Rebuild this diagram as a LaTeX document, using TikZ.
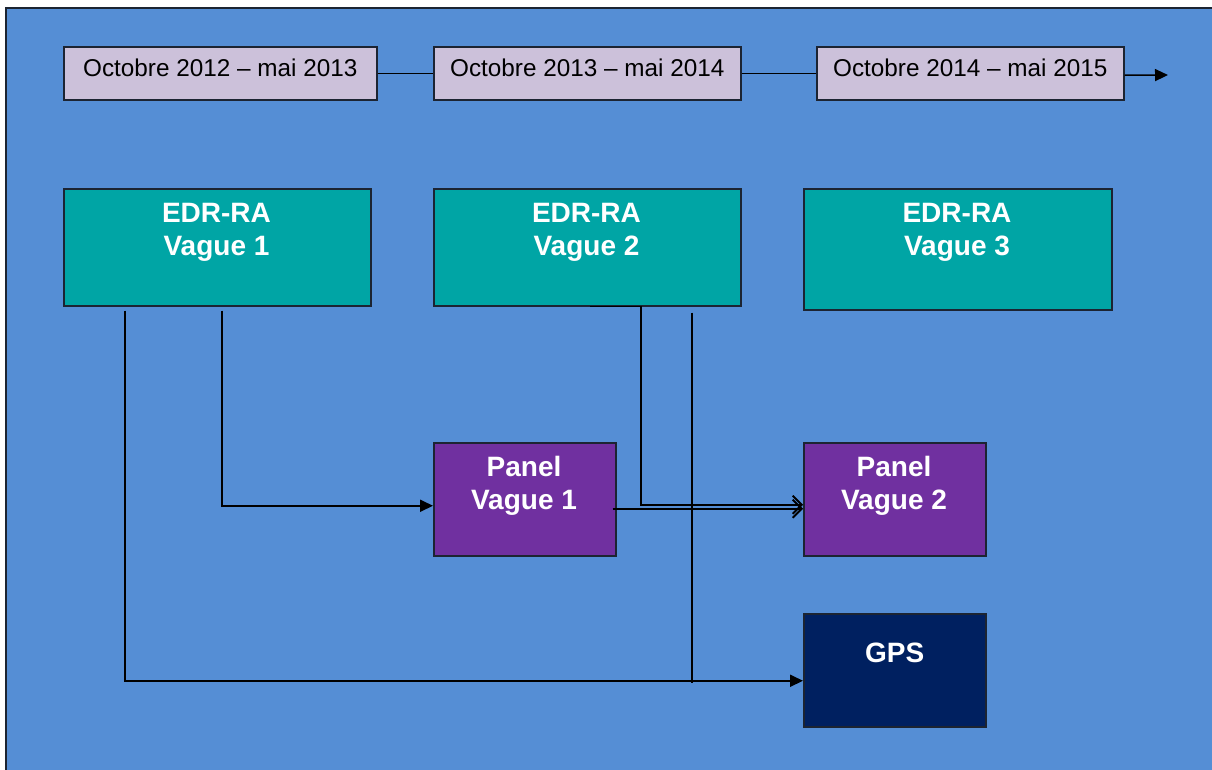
\documentclass[tikz,border=0pt]{standalone}
\usepackage{fontspec}
\setmainfont{Liberation Sans}
\usetikzlibrary{arrows.meta}
\definecolor{bgblue}{RGB}{85,142,213}
\definecolor{datefill}{RGB}{204,193,218}
\definecolor{tealbox}{RGB}{0,165,165}
\definecolor{purplebox}{RGB}{112,48,160}
\definecolor{navybox}{RGB}{0,32,96}
\definecolor{edge}{RGB}{28,36,50}
\tikzset{
  datebox/.style={draw=edge, line width=1.5pt, fill=datefill, inner xsep=0pt, inner ysep=0pt,
    minimum width=313pt, text height=30pt, text depth=23pt, anchor=north west,
    font=\fontsize{24.3}{28}\selectfont, text=black},
  edrbox/.style={draw=edge, line width=1.5pt, fill=tealbox, minimum width=307pt, minimum height=117pt,
    anchor=north west, inner sep=0pt},
  panelbox/.style={draw=edge, line width=1.5pt, fill=purplebox, minimum width=182pt, minimum height=113pt,
    anchor=north west, inner sep=0pt},
  gpsbox/.style={draw=edge, line width=1.5pt, fill=navybox, minimum width=182pt, inner ysep=0pt,
    text height=49pt, text depth=64pt, anchor=north west, text=white,
    font=\fontsize{28}{33}\selectfont\bfseries},
  boxlabel/.style={text=white, align=center, inner sep=0pt, anchor=north,
    font=\fontsize{28}{33}\selectfont\bfseries},
  conn/.style={draw=black, line width=1.8pt},
  filltip/.style={-{Triangle[length=13pt,width=12pt]}},
  barbtip/.style={-{Straight Barb[length=9pt,width=18pt,line width=1.8pt]}}
}
\begin{document}
\begin{tikzpicture}[x=1pt,y=-1pt]
\useasboundingbox (0,0) rectangle (1212,769);
\fill[white] (-5,-5) rectangle (1220,780);
\fill[bgblue] (6,8) rectangle (1220,780);
\draw[edge, line width=2.2pt] (6,780) -- (6,8) -- (1220,8);

% timeline
\node[datebox] (d1) at (63,46) {Octobre 2012 -- mai 2013};
\node[datebox, minimum width=307pt] (d2) at (433,46) {Octobre 2013 -- mai 2014};
\node[datebox, minimum width=307pt] (d3) at (816,46) {Octobre 2014 -- mai 2015};
\coordinate (tend) at (1168,75);
\draw[conn, line width=1.5pt] (d1.east) -- (d2.west);
\draw[conn, line width=1.5pt] (d2.east) -- (d3.west);
\draw[conn, line width=1.5pt, filltip] ([yshift=-2pt]d3.east) -- (tend);

% EDR boxes
\node[edrbox] (e1) at (63,188) {};
\node[edrbox] (e2) at (433,188) {};
\node[edrbox, minimum width=308pt, minimum height=121pt] (e3) at (803,188) {};
\node[boxlabel] (e1t) at (216.5,203) {EDR-RA\\Vague 1};
\node[boxlabel] (e2t) at (586.5,203) {EDR-RA\\Vague 2};
\node[boxlabel] (e3t) at (957,203) {EDR-RA\\Vague 3};

% panels
\node[panelbox] (p1) at (433,442) {};
\node[panelbox] (p2) at (803,442) {};
\node[boxlabel] (p1t) at (524,456) {Panel\\Vague 1};
\node[boxlabel] (p2t) at (894,456) {Panel\\Vague 2};

% GPS
\node[gpsbox] (g) at (803,613) {GPS};

% connectors
\draw[conn, filltip] ([xshift=62pt,yshift=-4pt]e1.south west) |- ([yshift=-10.5pt]g.west);
\draw[conn, filltip] ([xshift=159pt,yshift=-4pt]e1.south west) |- ([yshift=-6.5pt]p1.west);
\draw[conn, barbtip] ([xshift=157pt]e2.south west) -- ([xshift=208pt]e2.south west) |- ([yshift=-5.5pt]p2.west);
\draw[conn, barbtip] ([xshift=-4pt,yshift=-9.5pt]p1.east) -- ([yshift=-9.5pt]p2.west);
\coordinate (vend) at (692,683);
\draw[conn] ([xshift=259pt,yshift=-6pt]e2.south west) -- (vend);
\end{tikzpicture}
\end{document}
